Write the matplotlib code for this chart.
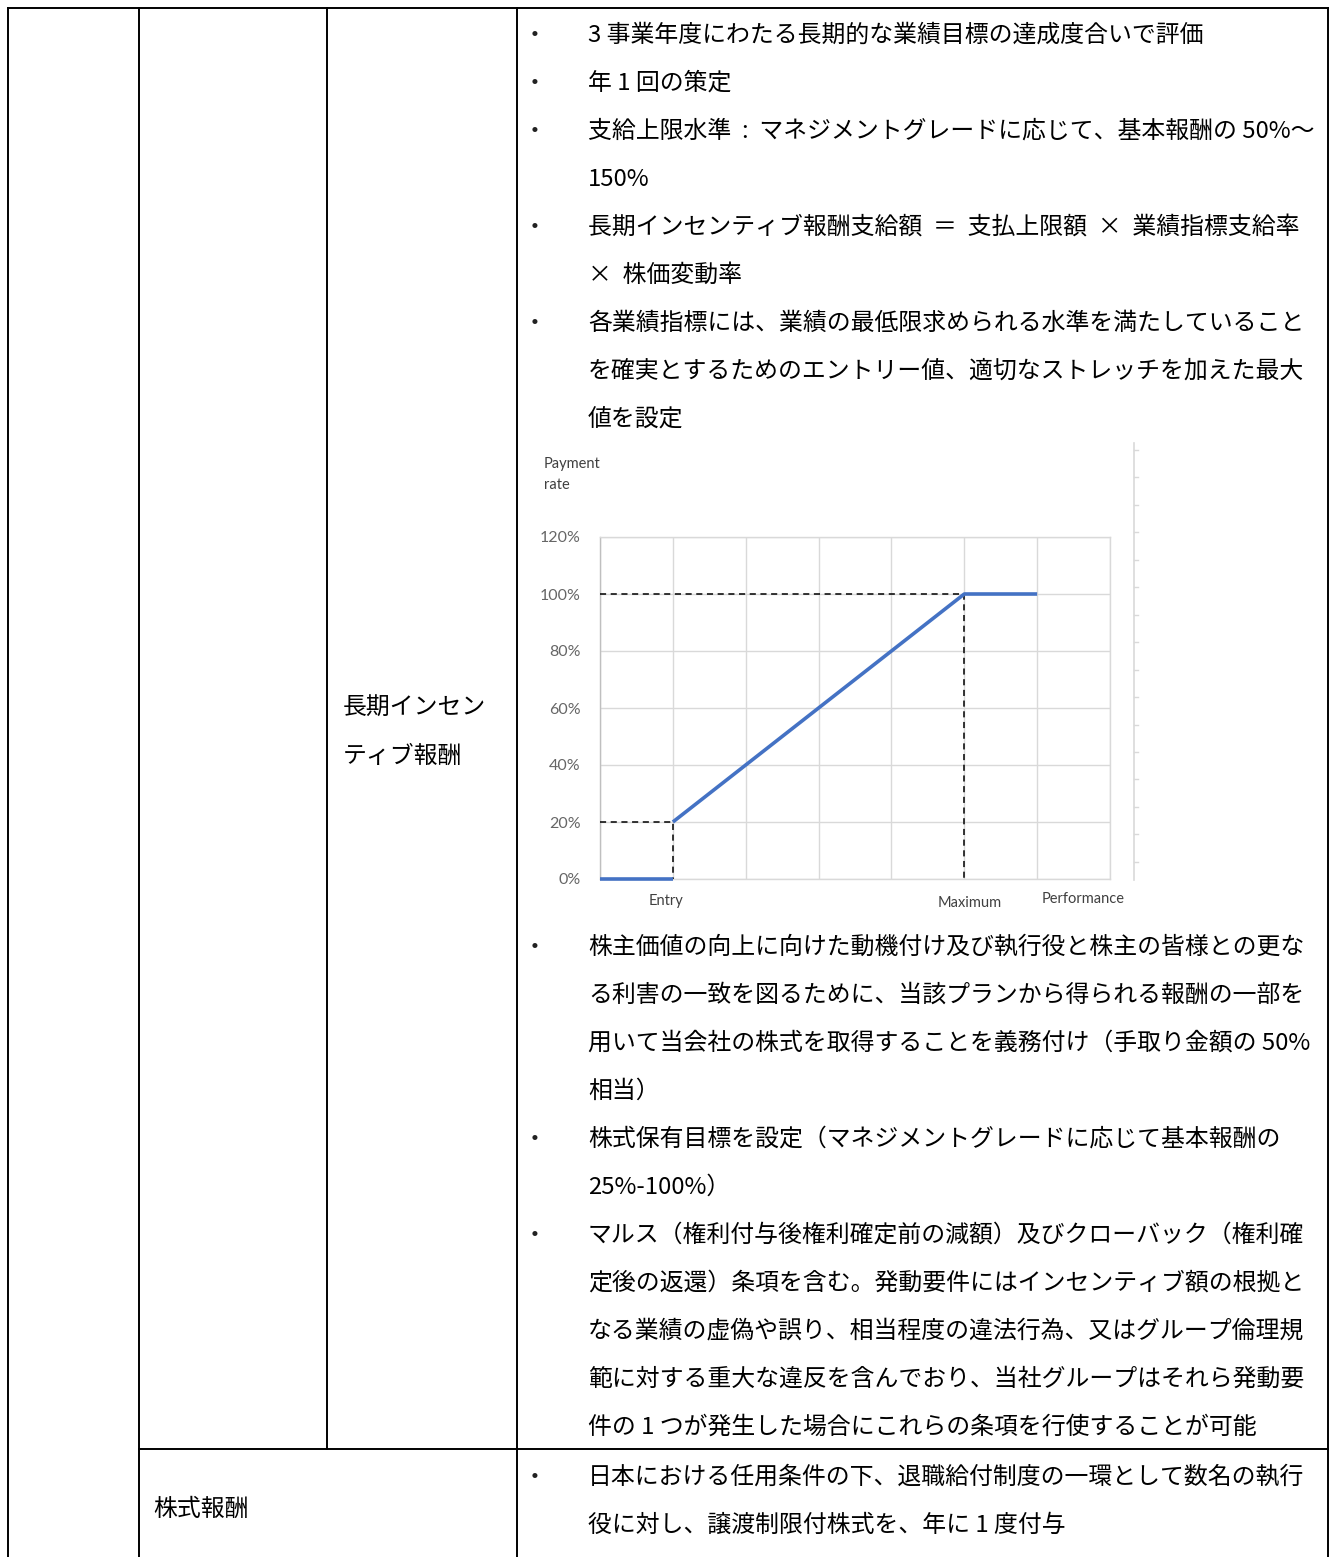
import matplotlib
matplotlib.use("Agg")
import matplotlib.pyplot as plt

JP = ["Noto Sans CJK JP", "DejaVu Sans"]
LAT = ["Lato", "DejaVu Sans"]
W, H = 1332, 1557

# ---- table text -------------------------------------------------------------
BLOCK1 = [
    "3 事業年度にわたる長期的な業績目標の達成度合いで評価",
    "年 1 回の策定",
    "支給上限水準  :  マネジメントグレードに応じて、基本報酬の 50%～",
    "150%",
    "長期インセンティブ報酬支給額  ＝  支払上限額  ×  業績指標支給率",
    "×  株価変動率",
    "各業績指標には、業績の最低限求められる水準を満たしていること",
    "を確実とするためのエントリー値、適切なストレッチを加えた最大",
    "値を設定",
]
BULLETS1 = [0, 1, 2, 4, 6]

BLOCK2 = [
    "株主価値の向上に向けた動機付け及び執行役と株主の皆様との更な",
    "る利害の一致を図るために、当該プランから得られる報酬の一部を",
    "用いて当会社の株式を取得することを義務付け（手取り金額の 50%",
    "相当）",
    "株式保有目標を設定（マネジメントグレードに応じて基本報酬の",
    "25%-100%）",
    "マルス（権利付与後権利確定前の減額）及びクローバック（権利確",
    "定後の返還）条項を含む。発動要件にはインセンティブ額の根拠と",
    "なる業績の虚偽や誤り、相当程度の違法行為、又はグループ倫理規",
    "範に対する重大な違反を含んでおり、当社グループはそれら発動要",
    "件の 1 つが発生した場合にこれらの条項を行使することが可能",
]
BULLETS2 = [0, 4, 6]

BLOCK3 = [
    "日本における任用条件の下、退職給付制度の一環として数名の執行",
    "役に対し、譲渡制限付株式を、年に 1 度付与",
]
BULLETS3 = [0]

LTI_LABEL = ["長期インセン", "ティブ報酬"]
STOCK_LABEL = "株式報酬"

# ---- chart data -------------------------------------------------------------
floor_x, floor_y = [0, 1], [0.0, 0.0]
pay_x, pay_y = [1, 5, 6], [0.2, 1.0, 1.0]
entry_guide_x, entry_guide_y = [0, 1, 1], [0.2, 0.2, 0.0]
max_guide_x, max_guide_y = [0, 5, 5], [1.0, 1.0, 0.0]
y_ticks = [0, 0.2, 0.4, 0.6, 0.8, 1.0, 1.2]
y_labels = ["0%", "20%", "40%", "60%", "80%", "100%", "120%"]
x_names = ["Entry", "Maximum", "Performance"]
x_name_pos = [0.9, 5.07, 6.63]
x_name_y = [-0.077, -0.084, -0.070]

fig = plt.figure(figsize=(W / 100, H / 100), dpi=100)
base = fig.add_axes([0, 0, 1, 1])
base.set_xlim(0, W)
base.set_ylim(H, 0)
base.axis("off")

# table grid
lw = 1.4
base.plot([8, 1328], [8, 8], color="black", lw=lw)
base.plot([139, 1328], [1449, 1449], color="black", lw=lw)
for x in [8, 139, 517, 1328]:
    base.plot([x, x], [8, H], color="black", lw=lw)
base.plot([327, 327], [8, 1449], color="black", lw=lw)

FS = 17.2
DY = 2  # CJK box centre sits a little above the visual centre


def block(lines, bullets, y0):
    for i, s in enumerate(lines):
        y = y0 + 48 * i + DY
        if i in bullets:
            base.text(535, y, "・", family=JP, fontsize=FS, ha="center", va="center",
                      color="#222222")
        base.text(588, y, s, family=JP, fontsize=FS, ha="left", va="center")


block(BLOCK1, BULLETS1, 33)
block(BLOCK2, BULLETS2, 945)
block(BLOCK3, BULLETS3, 1475)

for i, s in enumerate(LTI_LABEL):
    base.text(343, 706 + 48 * i + DY, s, family=JP, fontsize=FS, ha="left", va="center")
base.text(153, 1507 + DY, STOCK_LABEL, family=JP, fontsize=FS, ha="left", va="center")

# leftover axis at right of the pasted chart
base.plot([1134, 1134], [443, 880], color="#d9d9d9", lw=1.2)
for i in range(16):
    yy = 450 + 27.45 * i
    base.plot([1134, 1138], [yy, yy], color="#d9d9d9", lw=1)

base.text(544, 464, "Payment", family=LAT, fontsize=10.5, color="#404040", va="center")
base.text(544, 485, "rate", family=LAT, fontsize=10.5, color="#404040", va="center")

# ---- chart ------------------------------------------------------------------
ax = fig.add_axes([600 / W, 1 - 879 / H, 510 / W, 342 / H])
ax.set_xlim(0, 7)
ax.set_ylim(0, 1.2)
ax.set_xticks(range(8))
ax.set_xticklabels([])
ax.set_yticks(y_ticks)
ax.set_yticklabels(y_labels, family=LAT, fontsize=11.5, color="#666666")
ax.tick_params(length=0, pad=14)
ax.grid(True, color="#d9d9d9", lw=1)
for sp in ax.spines.values():
    sp.set_color("#d9d9d9")
    sp.set_linewidth(1)
ax.spines["left"].set_color("#bfbfbf")

dash = dict(color="black", lw=1.1, linestyle=(0, (4, 3)), zorder=3)
ax.plot(entry_guide_x, entry_guide_y, **dash)
ax.plot(max_guide_x, max_guide_y, **dash)
ax.plot(floor_x, floor_y, color="#4472C4", lw=2.6, clip_on=False, zorder=4,
        solid_capstyle="butt")
ax.plot(pay_x, pay_y, color="#4472C4", lw=2.6, clip_on=False, zorder=4,
        solid_capstyle="butt")

for name, xp, yp in zip(x_names, x_name_pos, x_name_y):
    ax.text(xp, yp, name, family=LAT, fontsize=10.5, color="#404040",
            ha="center", va="center")

fig.savefig("out.png", dpi=100)
